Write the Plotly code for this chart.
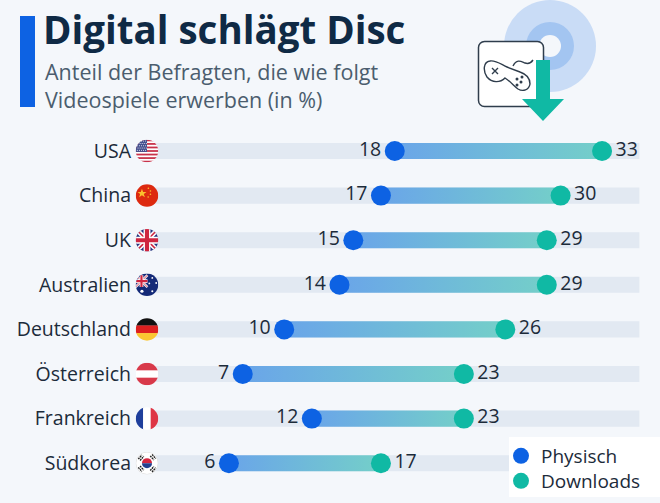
import base64
import plotly.graph_objects as go

categories = ["USA", "China", "UK", "Australien", "Deutschland", "Österreich", "Frankreich", "Südkorea"]
physisch = [18, 17, 15, 14, 10, 7, 12, 6]
downloads = [33, 30, 29, 29, 26, 23, 23, 17]
track_start = 0.3
track_end = 35.7
title_text = "Digital schlägt Disc"
subtitle_lines = ["Anteil der Befragten, die wie folgt", "Videospiele erwerben (in %)"]

W, H = 660, 503
LEFT = 132
PX_PER_X = 13.82
X0_PX = 146
ROW0_PX = 151
ROW_PX = 44.6
INK = "#1c2b3a"
BG = "#f4f7fb"
FONT = "Open Sans"


def px(p):
    return (p - LEFT) / (W - LEFT)


def py(p):
    return 1 - p / H


def svg_uri(body, vb="0 0 100 100"):
    s = f'<svg xmlns="http://www.w3.org/2000/svg" viewBox="{vb}">{body}</svg>'
    return "data:image/svg+xml;base64," + base64.b64encode(s.encode()).decode()


def flag(inner):
    return svg_uri(
        '<defs><clipPath id="c"><circle cx="50" cy="50" r="49"/></clipPath></defs>'
        f'<g clip-path="url(#c)">{inner}</g>'
    )


def rect(x, y, w, h, c):
    return f'<rect x="{x}" y="{y}" width="{w}" height="{h}" fill="{c}"/>'


usa = rect(0, 0, 100, 100, "#fff")
for k in range(0, 13, 2):
    usa += rect(0, k * 100 / 13, 100, 100 / 13, "#c8324a")
usa += rect(0, 0, 50, 54, "#45508f")
for r_ in range(5):
    for c_ in range(5):
        usa += f'<circle cx="{8 + c_ * 9 + (r_ % 2) * 3}" cy="{7 + r_ * 10}" r="2.2" fill="#fff"/>'

china = rect(0, 0, 100, 100, "#dd2a10") + (
    '<polygon fill="#fbc02d" points="28,20 33,34 48,34 36,43 41,57 28,48 16,57 20,43 9,34 23,34"/>'
    '<circle cx="56" cy="18" r="3.5" fill="#fbc02d"/><circle cx="65" cy="30" r="3.5" fill="#fbc02d"/>'
    '<circle cx="65" cy="44" r="3.5" fill="#fbc02d"/><circle cx="55" cy="56" r="3.5" fill="#fbc02d"/>'
)


def union(x=0, y=0, s=1):
    return (
        f'<g transform="translate({x} {y}) scale({s})">'
        + rect(0, 0, 100, 100, "#27357f")
        + '<path d="M0 0L100 100M100 0L0 100" stroke="#fff" stroke-width="20"/>'
        + '<path d="M0 0L100 100M100 0L0 100" stroke="#cf2640" stroke-width="7"/>'
        + '<path d="M50 0V100M0 50H100" stroke="#fff" stroke-width="30"/>'
        + '<path d="M50 0V100M0 50H100" stroke="#cf2640" stroke-width="18"/></g>'
    )


uk = union()
aus = rect(0, 0, 100, 100, "#142a78") + union(0, 8, 0.52) + "".join(
    f'<circle cx="{a}" cy="{b}" r="{r}" fill="#fff"/>'
    for a, b, r in [(73, 20, 4), (90, 42, 4), (60, 44, 4), (73, 78, 4.5), (28, 78, 7)]
)
ger = rect(0, 0, 100, 34, "#111") + rect(0, 33, 100, 34, "#dd1f1f") + rect(0, 66, 100, 34, "#fbc631")
aut = rect(0, 0, 100, 100, "#fff") + rect(0, 0, 100, 34, "#d8394a") + rect(0, 66, 100, 34, "#d8394a")
fra = rect(0, 0, 34, 100, "#1f3f9c") + rect(33, 0, 34, 100, "#fff") + rect(66, 0, 34, 100, "#de3545")
kor = rect(0, 0, 100, 100, "#fff") + (
    '<circle cx="50" cy="50" r="49" fill="none" stroke="#ccc" stroke-width="3"/>'
    '<path d="M28 50A22 22 0 0 1 72 50Z" fill="#d5263f"/>'
    '<path d="M28 50A22 22 0 0 0 72 50Z" fill="#23408f"/>'
    '<g stroke="#222" stroke-width="6" stroke-dasharray="8 3">'
    '<path d="M12 32L28 14M20 38L36 20M64 82L80 64M72 88L88 70"/>'
    '<path d="M12 68L28 86M20 62L36 80M64 18L80 36M72 12L88 30"/></g>'
)
flags = [usa, china, uk, aus, ger, aut, fra, kor]

icon = svg_uri(
    '<circle cx="80" cy="46" r="46" fill="#c9dcf6"/>'
    '<circle cx="80" cy="46" r="24" fill="#a3c5f1"/>'
    f'<circle cx="80" cy="46" r="11" fill="{BG}"/>'
    '<rect x="8.5" y="41.5" width="65" height="65" rx="6" fill="#fff" stroke="#2f3d4c" stroke-width="1.5"/>'
    '<path d="M20 61C26 60 32 65 37 67L50 72C56 74 60 77 60 84C59 90 53 92 48 89C44 86 40 81 35 78'
    'C30 83 22 83 17 77C13 71 13 62 20 61Z" fill="none" stroke="#2f3d4c" stroke-width="1.4"/>'
    '<path d="M43 66C47 58 52 62 55 63C58 64 61 63 63 60" fill="none" stroke="#2f3d4c" stroke-width="1.4"/>'
    '<path d="M22 68L28 74M28 68L22 74" stroke="#2f3d4c" stroke-width="1.4"/>'
    '<g fill="#2f3d4c"><circle cx="47" cy="79" r="1.5"/><circle cx="52" cy="77" r="1.5"/>'
    '<circle cx="51" cy="82" r="1.5"/><circle cx="47" cy="85" r="1.5"/></g>'
    '<path d="M66 60H80V99H94L73 121L52 99H66Z" fill="#10b9a4"/>',
    "0 0 130 125",
)

ys = list(range(len(categories)))
fig = go.Figure()

fig.add_trace(go.Bar(
    y=ys, x=[track_end - track_start] * len(ys), base=track_start, orientation="h",
    width=0.36, marker=dict(color="#e2e9f2", line_width=0), showlegend=False, hoverinfo="skip",
))

for i, (a, b) in enumerate(zip(physisch, downloads)):
    fig.add_trace(go.Scatter(
        x=[a, b, b, a, a], y=[i - 0.18, i - 0.18, i + 0.18, i + 0.18, i - 0.18],
        mode="lines", line=dict(width=0), fill="toself",
        fillgradient=dict(type="horizontal", colorscale=[[0, "#6aa5e9"], [1, "#74cfc9"]]),
        showlegend=False, hoverinfo="skip",
    ))

fig.add_trace(go.Scatter(
    x=physisch, y=ys, mode="markers+text", name="Physisch", text=[str(v) for v in physisch],
    textposition="middle left", textfont=dict(size=19.5, color=INK, family=FONT),
    marker=dict(size=20, color="#0d62e3"), legend="legend",
))
fig.add_trace(go.Scatter(
    x=downloads, y=ys, mode="markers+text", name="Downloads", text=[str(v) for v in downloads],
    textposition="middle right", textfont=dict(size=19.5, color=INK, family=FONT),
    marker=dict(size=20, color="#10b9a4"), legend="legend2",
))

images = [
    dict(source=flag(f), xref="x", yref="y", x=(147 - X0_PX) / PX_PER_X, y=i,
         sizex=23 / PX_PER_X, sizey=23 / ROW_PX, xanchor="center", yanchor="middle",
         layer="above", sizing="contain")
    for i, f in enumerate(flags)
]
images.append(dict(source=icon, xref="paper", yref="paper", x=px(470), y=py(0),
                   sizex=130 / (W - LEFT), sizey=125 / H, xanchor="left", yanchor="top",
                   layer="below", sizing="contain"))

legend_style = dict(xanchor="left", yanchor="top", bgcolor="rgba(0,0,0,0)", borderwidth=0,
                    font=dict(family=FONT, size=19, color=INK), itemwidth=30,
                    entrywidth=110, entrywidthmode="pixels")

fig.update_layout(
    width=W, height=H,
    margin=dict(l=LEFT, r=0, t=0, b=0, pad=0),
    paper_bgcolor=BG, plot_bgcolor="rgba(0,0,0,0)",
    font=dict(family=FONT, color=INK, size=19.5),
    barmode="overlay",
    title=dict(text=f"<b>{title_text}</b>", x=43 / W, xanchor="left", xref="container",
               y=1 - 31 / H, yanchor="middle", yref="container",
               font=dict(family=FONT, size=38.5, color="#0f2a45")),
    annotations=[
        dict(text="<br>".join(subtitle_lines), xref="paper", yref="paper", x=px(43), y=py(85.5),
             xanchor="left", yanchor="middle", align="left", showarrow=False,
             font=dict(family=FONT, size=21.5, color="#4b5d6e"))
    ],
    shapes=[
        dict(type="rect", xref="paper", yref="paper", x0=px(20), x1=px(35),
             y0=py(16), y1=py(107), fillcolor="#0d62e3", line_width=0),
        dict(type="rect", xref="paper", yref="paper", x0=px(509), x1=px(660),
             y0=py(437), y1=py(497), fillcolor="#ffffff", line_width=0, layer="above"),
    ],
    images=images,
    xaxis=dict(range=[(LEFT - X0_PX) / PX_PER_X, (W - X0_PX) / PX_PER_X], visible=False, fixedrange=True),
    yaxis=dict(range=[(H - ROW0_PX) / ROW_PX, -ROW0_PX / ROW_PX], tickmode="array", tickvals=ys,
               ticktext=categories, showgrid=False, zeroline=False, showline=False, ticks="",
               ticklabelposition="outside", tickfont=dict(family=FONT, size=19.5, color=INK), fixedrange=True),
    legend=dict(x=px(501), y=py(437), **legend_style),
    legend2=dict(x=px(501), y=py(462), **legend_style),
    showlegend=True,
)

fig.write_html("out.html", config=dict(displayModeBar=False),
               post_script="document.body.style.margin='0';")
